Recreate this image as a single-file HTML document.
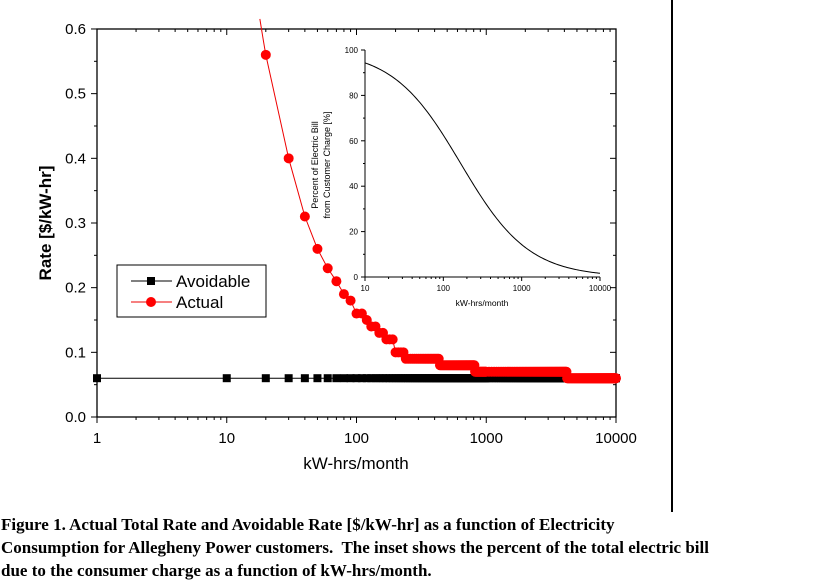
<!DOCTYPE html>
<html><head><style>
body{margin:0;background:#fff;width:818px;height:582px;overflow:hidden;position:relative}
.cap{position:absolute;left:1px;top:513px;font:bold 17px "Liberation Serif",serif;line-height:23px;color:#000;white-space:nowrap}
</style></head><body>
<svg id="s" width="818" height="582" style="position:absolute;left:0;top:0" font-family="Liberation Sans, sans-serif">
<line x1="672" y1="0" x2="672" y2="512" stroke="#000" stroke-width="2"/>
<rect x="97" y="29" width="519" height="388" fill="none" stroke="#000" stroke-width="1.3"/>
<g id="g"></g>
<text x="356" y="469" font-size="17" text-anchor="middle">kW-hrs/month</text>
<text transform="translate(51,223) rotate(-90)" font-size="17" font-weight="bold" text-anchor="middle">Rate [$/kW-hr]</text>
<rect x="117" y="265" width="149" height="52" fill="#fff" stroke="#000"/>
<line x1="131" y1="281" x2="172" y2="281" stroke="#000"/><rect x="147" y="277" width="8" height="8"/>
<text x="176" y="287" font-size="17">Avoidable</text>
<line x1="131" y1="302" x2="172" y2="302" stroke="#e00"/><circle cx="151" cy="302" r="5" fill="#f00"/>
<text x="176" y="308" font-size="17">Actual</text>
<text transform="translate(318,165) rotate(-90)" font-size="9" text-anchor="middle">Percent of Electric Bill</text>
<text transform="translate(330,165) rotate(-90)" font-size="9" text-anchor="middle">from Customer Charge [%]</text>
<text x="482" y="306" font-size="8.5" text-anchor="middle">kW-hrs/month</text>
</svg>
<div class="cap">Figure 1. Actual Total Rate and Avoidable Rate [$/kW-hr] as a function of Electricity<br>Consumption for Allegheny Power customers.&nbsp; The inset shows the percent of the total electric bill<br>due to the consumer charge as a function of kW-hrs/month.</div>
<script>
var g=document.getElementById('g'),h='';
function X(v){return 97+129.75*Math.log10(v)}function Y(r){return 417-646.7*r}
function IX(v){return 365+78.33*(Math.log10(v)-1)}function IY(p){return 277-2.27*p}
for(var i=0;i<=6;i++){var y=Y(i/10);h+=`<line x1="97" y1="${y}" x2="91" y2="${y}" stroke="#000"/><line x1="616" y1="${y}" x2="610" y2="${y}" stroke="#000"/><text x="86" y="${y+5}" font-size="15" text-anchor="end">${(i/10).toFixed(1)}</text>`;
 if(i<6){var y2=Y(i/10+0.05);h+=`<line x1="97" y1="${y2}" x2="94" y2="${y2}" stroke="#000"/><line x1="616" y1="${y2}" x2="613" y2="${y2}" stroke="#000"/>`;}}
var lab=['1','10','100','1000','10000'];
for(var d=0;d<=4;d++){var x=X(Math.pow(10,d));h+=`<line x1="${x}" y1="417" x2="${x}" y2="423" stroke="#000"/><line x1="${x}" y1="29" x2="${x}" y2="35" stroke="#000"/><text x="${x}" y="443" font-size="15" text-anchor="middle">${lab[d]}</text>`;
 if(d<4)for(var k=2;k<10;k++){var xx=X(k*Math.pow(10,d));h+=`<line x1="${xx}" y1="417" x2="${xx}" y2="420" stroke="#000"/><line x1="${xx}" y1="29" x2="${xx}" y2="32" stroke="#000"/>`;}}
var ya=Y(0.06);h+=`<line x1="97" y1="${ya}" x2="616" y2="${ya}" stroke="#000"/>`;
var xs=[1,10];for(var v=20;v<=10000;v+=(v<1000?10:50))xs.push(v);
xs.forEach(function(v){h+=`<rect x="${X(v)-4}" y="${ya-4}" width="8" height="8"/>`;});
function rate(v){if(v<200)return Math.ceil((0.06+10/v)*100-1e-6)/100;if(v<236)return 0.10;if(v<438)return 0.09;if(v<819)return 0.08;if(v<4180)return 0.07;return 0.06;}
var pts=[];for(var v=18;v<20;v+=0.2)pts.push([X(v),Y(0.06+10/v)]);
var act=[];for(var v=20;v<=10000;v+=(v<1000?10:50)){var r=rate(v);act.push([X(v),Y(r)]);pts.push([X(v),Y(r)]);}
h+=`<polyline points="${pts.map(p=>p.join(',')).join(' ')}" fill="none" stroke="#e00"/>`;
act.forEach(function(p){h+=`<circle cx="${p[0]}" cy="${p[1]}" r="5" fill="#f00"/>`;});
h+=`<line x1="365" y1="50" x2="365" y2="277" stroke="#000"/><line x1="365" y1="277" x2="600" y2="277" stroke="#000"/>`;
for(var p=0;p<=100;p+=20){var y=IY(p);h+=`<line x1="365" y1="${y}" x2="361" y2="${y}" stroke="#000"/><text x="358" y="${y+3}" font-size="8" text-anchor="end">${p}</text>`;if(p<100){var y2=IY(p+10);h+=`<line x1="365" y1="${y2}" x2="363" y2="${y2}" stroke="#000"/>`;}}
for(var d=1;d<=4;d++){var x=IX(Math.pow(10,d));h+=`<line x1="${x}" y1="277" x2="${x}" y2="281" stroke="#000"/><text x="${x}" y="291" font-size="8" text-anchor="middle">${Math.pow(10,d)}</text>`;if(d<4)for(var k=2;k<10;k++){var xx=IX(k*Math.pow(10,d));h+=`<line x1="${xx}" y1="277" x2="${xx}" y2="279" stroke="#000"/>`;}}
var ip=[];for(var e=1;e<=4.0001;e+=0.02){var v=Math.pow(10,e),c=10/v;ip.push([IX(v),IY(100*c/(0.06+c))]);}
h+=`<polyline points="${ip.map(p=>p.join(',')).join(' ')}" fill="none" stroke="#000"/>`;
g.innerHTML=h;
</script>
</body></html>
